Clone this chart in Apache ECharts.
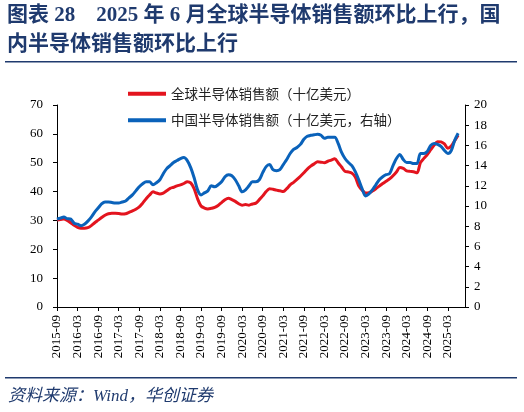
<!DOCTYPE html>
<html><head><meta charset="utf-8">
<script src="https://cdn.jsdelivr.net/npm/echarts@6/dist/echarts.min.js"></script>
<style>html,body{margin:0;padding:0;background:#fff}#c{width:524px;height:412px}</style>
</head><body><div id="c"></div>
<script>
// categories: monthly 2015-09 .. 2025-08 (axis extends two months past last data point)
var startYear = 2015, startMonth = 9, monthCount = 120;
var categories = [];
for (var k = 0; k < monthCount; k++) {
  var m = startMonth - 1 + k;
  var y = startYear + Math.floor(m / 12);
  var mm = (m % 12) + 1;
  categories.push(y + '-' + (mm < 10 ? '0' + mm : mm));
}
var globalSales = [
  30.1,30.3,30.5,30.0,29.2,28.3,27.6,27.3,27.3,27.5,28.2,29.2,
  30.1,31.0,31.8,32.3,32.5,32.5,32.4,32.2,32.3,32.8,33.3,33.9,
  34.7,36.0,37.5,38.8,39.9,39.5,39.2,39.5,40.3,41.1,41.5,42.0,
  42.3,42.8,43.4,43.0,41.0,37.5,35.0,34.3,34.0,34.2,34.5,35.2,
  36.2,37.2,37.7,37.2,36.6,35.8,35.3,35.5,35.3,35.7,36.0,37.2,
  38.5,40.0,41.0,40.8,40.5,40.3,40.0,41.0,42.3,43.2,44.2,45.3,
  46.5,47.8,48.8,49.6,50.3,50.2,50.0,50.5,50.9,51.4,50.0,48.5,
  47.0,46.8,46.4,45.0,42.0,40.5,39.5,39.6,40.2,41.0,41.9,42.8,
  43.6,44.4,45.5,46.8,48.3,48.0,47.2,47.0,46.9,46.5,50.0,51.5,
  52.8,54.5,56.1,57.3,57.2,56.5,55.0,55.8,57.6,59.5
];
var chinaSales = [
  8.7,8.8,8.9,8.75,8.7,8.3,8.2,8.05,8.2,8.5,8.9,9.4,
  9.8,10.2,10.4,10.4,10.35,10.3,10.3,10.4,10.5,10.8,11.1,11.5,
  11.9,12.2,12.4,12.4,12.1,12.3,12.6,13.2,13.7,14.0,14.3,14.5,
  14.7,14.8,14.5,13.8,12.8,11.6,11.1,11.3,11.5,12.0,11.9,12.1,
  12.4,12.9,13.1,13.0,12.6,12.0,11.4,11.6,12.0,12.4,12.4,12.6,
  13.3,13.9,14.1,13.6,13.5,13.6,14.1,14.6,15.2,15.6,15.8,16.1,
  16.6,16.9,17.0,17.05,17.1,17.0,16.7,16.8,16.8,16.8,16.2,15.3,
  14.7,14.3,14.0,13.4,12.6,11.7,11.0,11.2,11.6,12.1,12.6,12.9,
  13.1,13.2,14.0,14.7,15.1,14.6,14.3,14.3,14.2,14.2,15.2,15.2,
  15.4,16.0,16.2,16.1,15.9,15.5,15.2,15.5,16.5,17.2
];
var seriesNames = ['全球半导体销售额（十亿美元）', '中国半导体销售额（十亿美元，右轴）'];
var titleLine1 = '图表 28    2025 年 6 月全球半导体销售额环比上行，国';
var titleLine2 = '内半导体销售额环比上行';
var sourceText = '资料来源：Wind，华创证券';

var navy = '#1F3A6E';
var serif = "'Liberation Serif','Noto Sans CJK SC',serif";
var chart = echarts.init(document.getElementById('c'));
chart.setOption({
  animation: false,
  textStyle: { fontFamily: serif },
  grid: { left: 57, right: 59, top: 105, bottom: 105 },
  legend: {
    orient: 'vertical', left: 123, top: 82, itemGap: 13,
    itemWidth: 38, itemHeight: 4, icon: 'rect',
    textStyle: { fontSize: 13.5, color: '#222', fontFamily: "'Noto Sans CJK SC',sans-serif" },
    data: seriesNames
  },
  xAxis: {
    type: 'category', data: categories, boundaryGap: false,
    axisLine: { lineStyle: { color: '#000', width: 1 } },
    axisTick: { interval: 5, length: 4, lineStyle: { color: '#000' } },
    axisLabel: { interval: 5, rotate: 90, color: '#000', fontSize: 13, margin: 8, fontFamily: serif }
  },
  yAxis: [{
    type: 'value', min: 0, max: 70, interval: 10,
    axisLine: { show: true, lineStyle: { color: '#000' } },
    axisTick: { show: true, length: 4, lineStyle: { color: '#000' } },
    splitLine: { show: false },
    axisLabel: { color: '#000', fontSize: 13, margin: 14, fontFamily: serif }
  }, {
    type: 'value', min: 0, max: 20, interval: 2,
    axisLine: { show: true, lineStyle: { color: '#000' } },
    axisTick: { show: true, length: 4, lineStyle: { color: '#000' } },
    splitLine: { show: false },
    axisLabel: { color: '#000', fontSize: 13, margin: 9, fontFamily: serif }
  }],
  series: [{
    name: seriesNames[0], type: 'line', data: globalSales, yAxisIndex: 0,
    showSymbol: false, symbol: 'none', smooth: 0.3,
    lineStyle: { color: '#E3141E', width: 3 }, itemStyle: { color: '#E3141E' }
  }, {
    name: seriesNames[1], type: 'line', data: chinaSales, yAxisIndex: 1,
    showSymbol: false, symbol: 'none', smooth: 0.3,
    lineStyle: { color: '#0A62BA', width: 3 }, itemStyle: { color: '#0A62BA' }
  }],
  graphic: [
    { type: 'text', left: 7, top: 5, style: { text: titleLine1, font: "bold 21px 'Liberation Serif','Noto Sans CJK SC',serif", fill: navy } },
    { type: 'text', left: 7, top: 34, style: { text: titleLine2, font: "bold 21px 'Liberation Serif','Noto Sans CJK SC',serif", fill: navy } },
    { type: 'rect', shape: { x: 5, y: 61, width: 512, height: 1.5 }, style: { fill: navy } },
    { type: 'rect', shape: { x: 5, y: 377, width: 512, height: 1.5 }, style: { fill: navy } },
    { type: 'text', left: 8, top: 388, style: { text: sourceText, font: "italic 17px 'Liberation Serif','Noto Sans CJK SC',serif", fill: navy } }
  ]
});
</script></body></html>
